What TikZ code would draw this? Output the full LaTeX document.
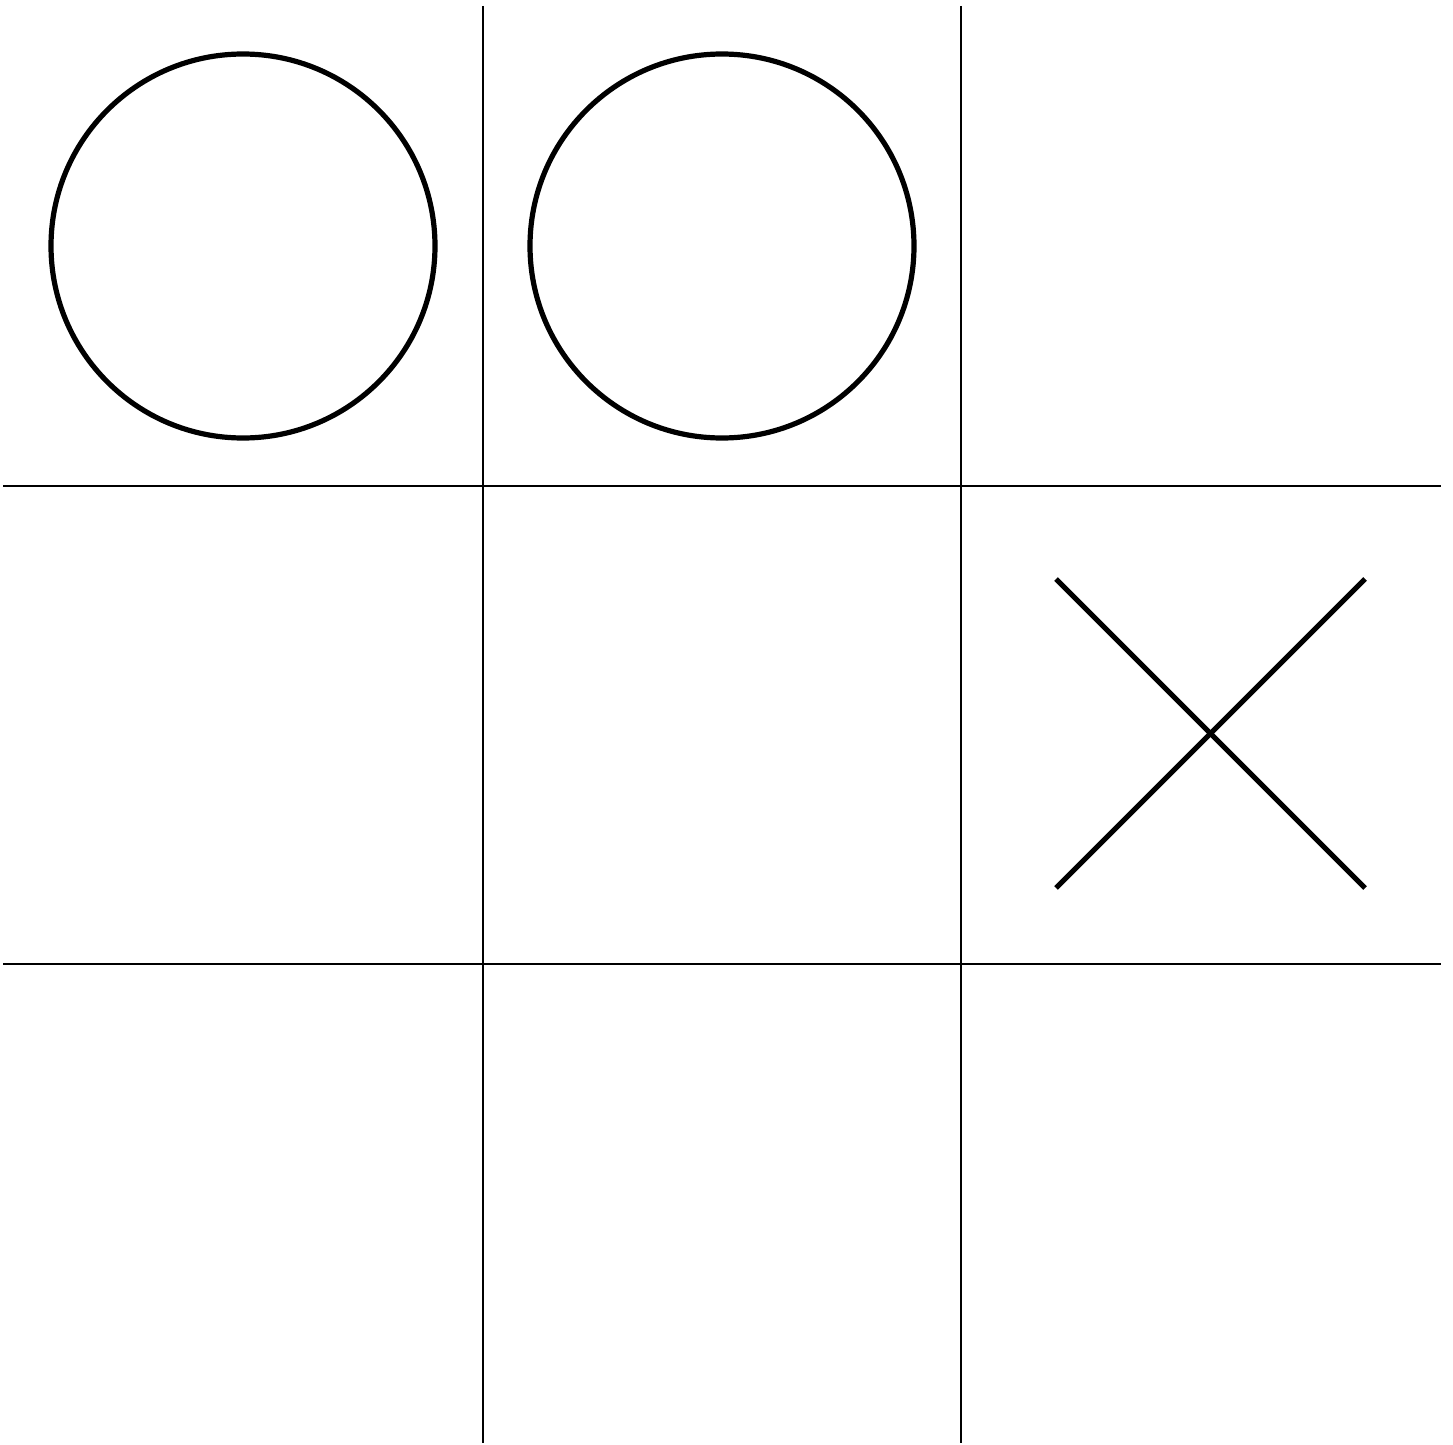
\documentclass[tikz,border=0pt]{standalone}
\begin{document}
\begin{tikzpicture}[x=0.5bp,y=-0.5bp,
  gridline/.style={line width=0.6bp,black},
  glyph/.style={line width=2.6bp,black}]
\useasboundingbox (0,0) rectangle (1453,1445);
% grid
\draw[gridline] (483,6) -- (483,1443);
\draw[gridline] (961,6) -- (961,1443);
\draw[gridline] (3,486) -- (1441,486);
\draw[gridline] (3,964) -- (1441,964);
% circles
\draw[glyph] (243,246) circle[radius=192];
\draw[glyph] (722,246) circle[radius=192];
% cross
\draw[glyph] (1056,579) -- (1365,888);
\draw[glyph] (1365,579) -- (1056,888);
\end{tikzpicture}
\end{document}
